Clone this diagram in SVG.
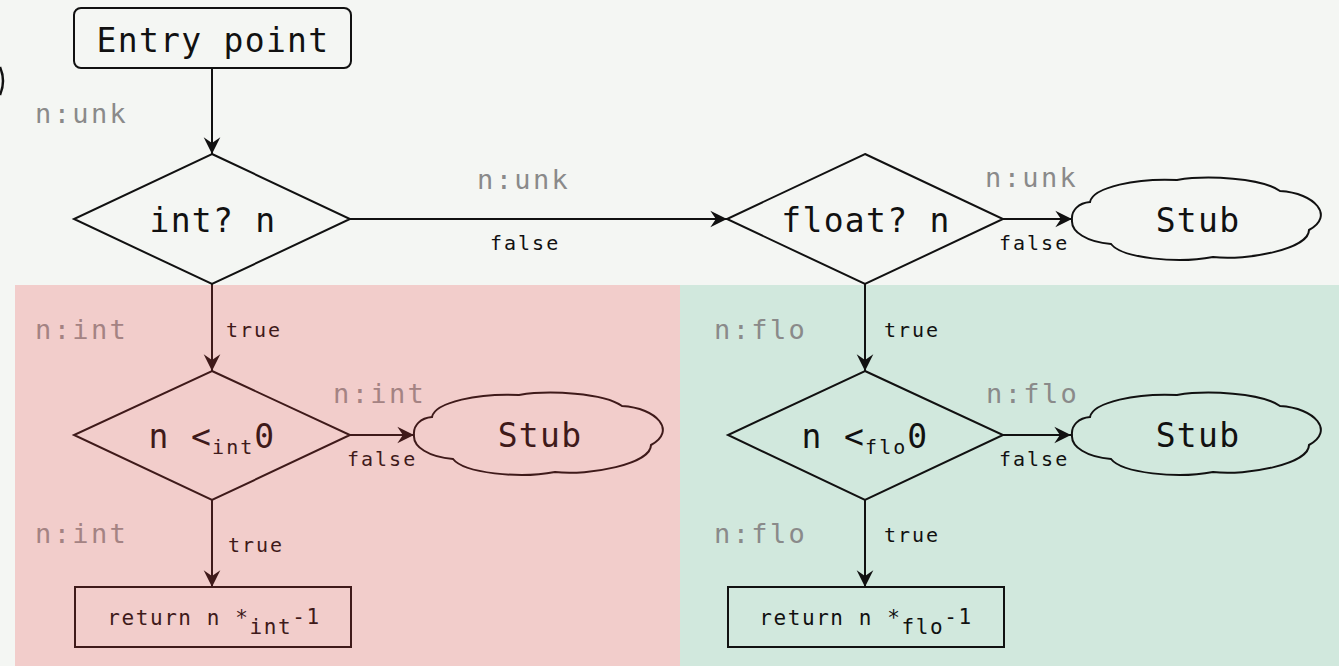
<svg xmlns="http://www.w3.org/2000/svg" width="1339" height="666" viewBox="0 0 1339 666">
  <style>
    .mono { font-family: "DejaVu Sans Mono", "Liberation Mono", monospace; }
    .big { font-size: 33px; letter-spacing: 1.3px; }
    .small { font-size: 20px; letter-spacing: 2px; }
    .ret { font-size: 21px; letter-spacing: 1.6px; }
    .ty { font-size: 27px; letter-spacing: 2.4px; }
    .ink { fill: #111; }
    .inkR { fill: #3f1a1a; }
    .grey { fill: #8a8a8a; }
    .greyR { fill: #a48383; }
    .shape { fill: none; stroke: #111; stroke-width: 2; }
    .shapeR { fill: none; stroke: #3f1a1a; stroke-width: 2; }
    .edge { fill: none; stroke: #111; stroke-width: 2; marker-end: url(#arr); }
    .edgeR { fill: none; stroke: #3f1a1a; stroke-width: 2; marker-end: url(#arrR); }
  </style>
  <defs>
    <marker id="arr" markerUnits="userSpaceOnUse" markerWidth="20" markerHeight="20" refX="0" refY="0" viewBox="-16 -9 18 18" orient="auto">
      <path d="M0,0 L-15,-7.5 L-10,0 L-15,7.5 Z" fill="#111"/>
    </marker>
    <marker id="arrR" markerUnits="userSpaceOnUse" markerWidth="20" markerHeight="20" refX="0" refY="0" viewBox="-16 -9 18 18" orient="auto">
      <path d="M0,0 L-15,-7.5 L-10,0 L-15,7.5 Z" fill="#3f1a1a"/>
    </marker>
    <!-- stub cloud outline, centred on the origin -->
    <path id="cloud" d="M -125,0 C -126,-10 -118,-17 -107,-18 C -104,-33 -60,-42 -20,-40 C 10,-45 65,-42 83,-29 C 118,-27 138,-4 112,10 C 112,29 50,41 16,37 C -20,44 -75,38 -86,24 C -110,22 -126,12 -125,0 Z"/>
  </defs>

  <!-- background and branch regions -->
  <rect x="0" y="0" width="1339" height="666" fill="#f4f6f3"/>
  <rect id="int-region" x="15" y="285" width="665" height="381" fill="#f2cdcb"/>
  <rect id="float-region" x="680" y="285" width="659" height="381" fill="#d1e8dd"/>
  <path d="M0,67 Q6,81 0,95" fill="none" stroke="#111" stroke-width="2.5"/>

  <!-- connectors -->
  <g id="connectors">
    <line class="edge" x1="212" y1="68" x2="212" y2="154"/>
    <line class="edge" x1="350" y1="219" x2="727" y2="219"/>
    <line class="edge" x1="1003" y1="219" x2="1072" y2="219"/>
    <line class="edgeR" x1="212" y1="284" x2="212" y2="371"/>
    <line class="edgeR" x1="350" y1="435" x2="414" y2="435"/>
    <line class="edgeR" x1="212" y1="500" x2="212" y2="587"/>
    <line class="edge" x1="865" y1="284" x2="865" y2="371"/>
    <line class="edge" x1="1003" y1="435" x2="1071" y2="435"/>
    <line class="edge" x1="865" y1="500" x2="865" y2="587"/>
  </g>

  <!-- edge labels -->
  <g id="labels" class="mono">
    <text class="ty grey" x="35" y="123">n:unk</text>
    <text class="ty grey" x="477" y="189">n:unk</text>
    <text class="small ink" x="490" y="250">false</text>
    <text class="ty grey" x="985" y="187">n:unk</text>
    <text class="small ink" x="999" y="250">false</text>

    <text class="ty greyR" x="35" y="339">n:int</text>
    <text class="small inkR" x="226" y="337">true</text>
    <text class="ty greyR" x="333" y="403">n:int</text>
    <text class="small inkR" x="347" y="466">false</text>
    <text class="ty greyR" x="35" y="543">n:int</text>
    <text class="small inkR" x="228" y="552">true</text>

    <text class="ty grey" x="714" y="339">n:flo</text>
    <text class="small ink" x="884" y="337">true</text>
    <text class="ty grey" x="986" y="403">n:flo</text>
    <text class="small ink" x="999" y="466">false</text>
    <text class="ty grey" x="714" y="543">n:flo</text>
    <text class="small ink" x="884" y="542">true</text>
  </g>

  <g id="entry">
    <rect class="shape" x="74" y="8" width="277" height="60" rx="7"/>
    <text class="mono big ink" x="213" y="52" text-anchor="middle">Entry point</text>
  </g>

  <g id="int-test">
    <polygon class="shape" points="212,154 350,219 212,284 74,219"/>
    <text class="mono big ink" x="213" y="232" text-anchor="middle">int? n</text>
  </g>

  <g id="float-test">
    <polygon class="shape" points="865,154 1003,219 865,284 727,219"/>
    <text class="mono big ink" x="866" y="232" text-anchor="middle">float? n</text>
  </g>

  <g id="stub-top">
    <use href="#cloud" class="shape" transform="translate(1197,220)"/>
    <text class="mono big ink" x="1198" y="232" text-anchor="middle">Stub</text>
  </g>

  <g id="int-neg">
    <polygon class="shapeR" points="212,371 350,435 212,500 74,435"/>
    <text class="mono big inkR" x="212" y="448" text-anchor="middle">n &lt;<tspan class="small" dy="6">int</tspan><tspan dy="-6">0</tspan></text>
  </g>

  <g id="stub-int">
    <use href="#cloud" class="shapeR" transform="translate(539,435)"/>
    <text class="mono big inkR" x="540" y="447" text-anchor="middle">Stub</text>
  </g>

  <g id="int-return">
    <rect class="shapeR" x="75" y="587" width="276" height="60"/>
    <text class="mono ret inkR" x="214" y="625" text-anchor="middle">return n *<tspan dy="9">int</tspan><tspan dy="-10">-1</tspan></text>
  </g>

  <g id="float-neg">
    <polygon class="shape" points="865,371 1003,435 865,500 728,435"/>
    <text class="mono big ink" x="865" y="448" text-anchor="middle">n &lt;<tspan class="small" dy="6">flo</tspan><tspan dy="-6">0</tspan></text>
  </g>

  <g id="stub-float">
    <use href="#cloud" class="shape" transform="translate(1197,435)"/>
    <text class="mono big ink" x="1198" y="447" text-anchor="middle">Stub</text>
  </g>

  <g id="float-return">
    <rect class="shape" x="728" y="587" width="276" height="60"/>
    <text class="mono ret ink" x="866" y="625" text-anchor="middle">return n *<tspan dy="9">flo</tspan><tspan dy="-10">-1</tspan></text>
  </g>
</svg>
